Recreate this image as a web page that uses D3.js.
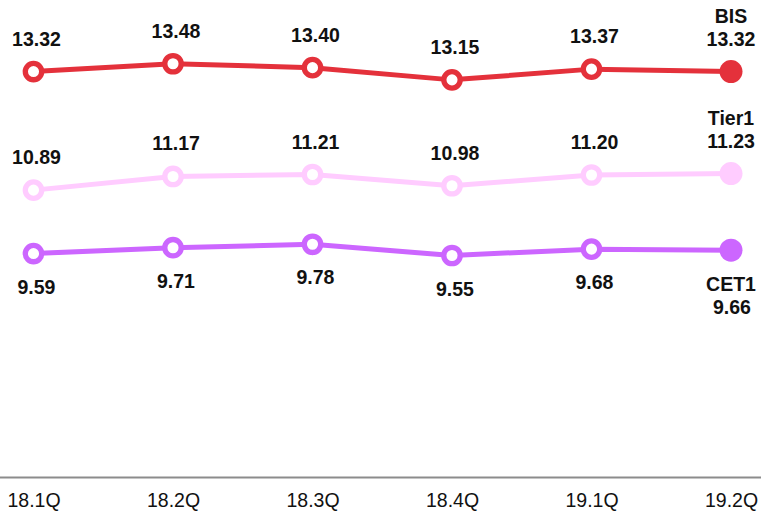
<!DOCTYPE html>
<html><head><meta charset="utf-8">
<script src="https://cdn.jsdelivr.net/npm/d3@7"></script>
<style>body{margin:0;background:#fff}svg{display:block}</style>
</head><body>
<script>
const categories = ["18.1Q","18.2Q","18.3Q","18.4Q","19.1Q","19.2Q"];
const bis   = [13.32,13.48,13.40,13.15,13.37,13.32];
const tier1 = [10.89,11.17,11.21,10.98,11.20,11.23];
const cet1  = [9.59,9.71,9.78,9.55,9.68,9.66];
const seriesNames = ["BIS","Tier1","CET1"];

const W=761,H=514;
const svg=d3.select("body").append("svg").attr("width",W).attr("height",H);
const x=d3.scalePoint().domain(categories).range([33.5,731]);
const y=d3.scaleLinear().domain([5,14.5]).range([477.5,14]);

// axis
const ax=svg.append("g").attr("transform","translate(0,477)")
  .call(d3.axisBottom(x).tickSize(0).tickPadding(0));
ax.select(".domain").remove();
svg.append("line").attr("x1",0).attr("x2",W).attr("y1",477.5).attr("y2",477.5)
  .attr("stroke","#8c8c8c").attr("stroke-width",2);
ax.selectAll("text").attr("dy",null).attr("y",30)
  .attr("font-family","Liberation Sans, Arial, sans-serif").attr("font-size",19.5).attr("fill","#111");

const series=[
  {name:seriesNames[0],vals:bis,color:"#e4313b",pos:"above"},
  {name:seriesNames[1],vals:tier1,color:"#ffccff",pos:"above"},
  {name:seriesNames[2],vals:cet1,color:"#cc66ff",pos:"below"}
];
const line=d3.line().x((d,i)=>x(categories[i])).y(d=>y(d));
series.forEach(s=>{
  const g=svg.append("g");
  g.append("path").datum(s.vals).attr("d",line).attr("fill","none")
    .attr("stroke",s.color).attr("stroke-width",5);
  const n=s.vals.length;
  g.selectAll("circle").data(s.vals).join("circle")
    .attr("cx",(d,i)=>x(categories[i])).attr("cy",d=>y(d))
    .attr("r",(d,i)=>i===n-1?11.5:8.2)
    .attr("fill",(d,i)=>i===n-1?s.color:"#fff")
    .attr("stroke",s.color).attr("stroke-width",(d,i)=>i===n-1?0:5.3);
  const txt=g.append("g").attr("font-family","Liberation Sans, Arial, sans-serif")
    .attr("font-weight","bold").attr("font-size",19.5).attr("fill","#111").attr("text-anchor","middle");
  s.vals.forEach((v,i)=>{
    const cx=x(categories[i]), cy=y(v);
    if(i<n-1){
      txt.append("text").attr("x",cx+3).attr("y",s.pos==="above"?cy-26:cy+40).text(v.toFixed(2));
    } else {
      const tx=731;
      if(s.pos==="above"){
        txt.append("text").attr("x",tx).attr("y",cy-49).text(s.name);
        txt.append("text").attr("x",tx).attr("y",cy-26).text(v.toFixed(2));
      } else {
        txt.append("text").attr("x",tx).attr("y",cy+41).text(s.name);
        txt.append("text").attr("x",tx+1).attr("y",cy+64).text(v.toFixed(2));
      }
    }
  });
});
</script>
</body></html>
